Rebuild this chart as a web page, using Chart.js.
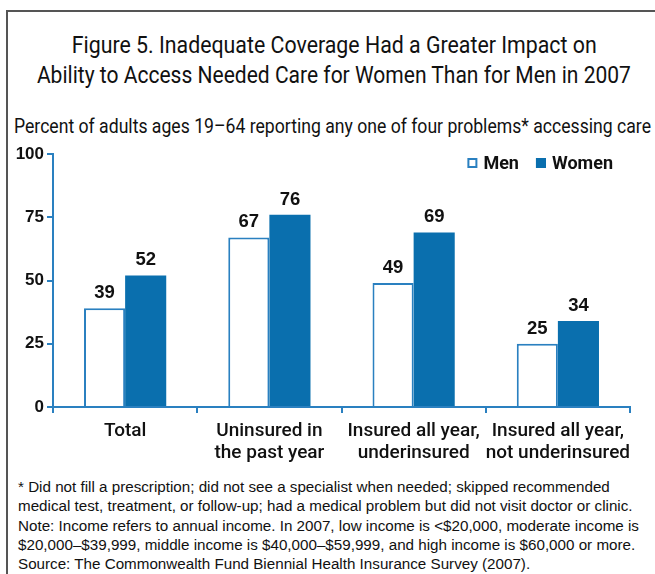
<!DOCTYPE html>
<html>
<head>
<meta charset="utf-8">
<script src="https://cdn.jsdelivr.net/npm/chart.js@4.4.1/dist/chart.umd.min.js"></script>
<style>
  html, body { margin: 0; padding: 0; background: #fff; }
  #page { position: relative; width: 655px; height: 574px; overflow: hidden; }
  #frame { position: absolute; left: 6px; top: 10px; width: 700px; height: 600px;
           border-left: 2px solid #555; border-top: 2px solid #555; }
  .head { position: absolute; left: 0; width: 668px; text-align: center; font-family: Roboto, sans-serif;
          font-size: 23.5px; color: #111; line-height: 30px; white-space: nowrap; }
  .head span, .sub span { display: inline-block; }
  .head span { transform-origin: 50% 50%; }
  .sub { position: absolute; left: 14px; top: 114px; font-family: Roboto, sans-serif; font-size: 20px;
         color: #111; line-height: 24px; white-space: nowrap; }
  .sub span { transform-origin: 0 50%; }
  #notes { position: absolute; left: 18px; top: 477px; font-family: "Liberation Sans", Arial, sans-serif;
           font-size: 15.2px; line-height: 19.3px; color: #111; white-space: nowrap; }
  #wrap { position: absolute; left: 0; top: 140px; width: 655px; height: 330px; }
</style>
</head>
<body>
<div id="page">
  <div id="frame"></div>
  <div class="head" style="top:30px"><span data-w="525">Figure 5. Inadequate Coverage Had a Greater Impact on</span></div>
  <div class="head" style="top:60px"><span data-w="594">Ability to Access Needed Care for Women Than for Men in 2007</span></div>
  <div class="sub"><span data-w="637">Percent of adults ages 19–64 reporting any one of four problems* accessing care</span></div>
  <div id="wrap"><canvas id="chart" width="655" height="330"></canvas></div>
  <div id="notes">
    <div>* Did not fill a prescription; did not see a specialist when needed; skipped recommended</div>
    <div>medical test, treatment, or follow-up; had a medical problem but did not visit doctor or clinic.</div>
    <div>Note: Income refers to annual income. In 2007, low income is &lt;$20,000, moderate income is</div>
    <div>$20,000–$39,999, middle income is $40,000–$59,999, and high income is $60,000 or more.</div>
    <div>Source: The Commonwealth Fund Biennial Health Insurance Survey (2007).</div>
  </div>
</div>
<script>
const categories = [
  ['Total'],
  ['Uninsured in', 'the past year'],
  ['Insured all year,', 'underinsured'],
  ['Insured all year,', 'not underinsured']
];
const menValues = [39, 67, 49, 25];
const womenValues = [52, 76, 69, 34];
const yTicks = [0, 25, 50, 75, 100];

const BLUE = '#0a6fae';
const AXIS = '#2a80c0';
const ARIAL = '"Liberation Sans", Arial, sans-serif';

// squeeze the heading lines to their column width
document.querySelectorAll('[data-w]').forEach(el => {
  const w = el.getBoundingClientRect().width;
  el.style.transform = 'scaleX(' + (el.dataset.w / w) + ')';
});

// numbers over each bar
const valueLabels = {
  id: 'valueLabels',
  afterDatasetsDraw(chart) {
    const ctx = chart.ctx;
    ctx.save();
    ctx.font = 'bold 18.5px ' + ARIAL;
    ctx.fillStyle = '#111';
    ctx.textAlign = 'center';
    ctx.textBaseline = 'bottom';
    chart.data.datasets.forEach((ds, i) => {
      chart.getDatasetMeta(i).data.forEach((bar, j) => {
        ctx.fillText(ds.data[j], bar.x, bar.y - 6);
      });
    });
    ctx.restore();
  }
};

// small legend in the top right corner of the plot
const cornerLegend = {
  id: 'cornerLegend',
  afterDraw(chart) {
    const ctx = chart.ctx;
    const area = chart.chartArea;
    const box = 10, gap = 6, spacing = 17;
    ctx.save();
    ctx.font = 'bold 18px Roboto, sans-serif';
    ctx.textBaseline = 'middle';
    const items = chart.data.datasets.map(ds => ({ ds, w: ctx.measureText(ds.label).width }));
    const total = items.reduce((s, it) => s + box + gap + it.w, 0) + spacing * (items.length - 1);
    let x = area.right - 17 - total;
    const y = area.top + 9;
    items.forEach(it => {
      ctx.fillStyle = it.ds.backgroundColor;
      ctx.fillRect(x, y - box / 2, box, box);
      ctx.strokeStyle = it.ds.borderColor;
      ctx.lineWidth = 2;
      ctx.strokeRect(x + 1, y - box / 2 + 1, box - 2, box - 2);
      x += box + gap;
      ctx.fillStyle = '#111';
      ctx.fillText(it.ds.label, x, y + 1);
      x += it.w + spacing;
    });
    ctx.restore();
  }
};

new Chart(document.getElementById('chart'), {
  type: 'bar',
  data: {
    labels: categories,
    datasets: [
      { label: 'Men', data: menValues, backgroundColor: '#ffffff', borderColor: AXIS, borderWidth: 2 },
      { label: 'Women', data: womenValues, backgroundColor: BLUE, borderColor: BLUE, borderWidth: 0 }
    ]
  },
  options: {
    responsive: false,
    animation: false,
    layout: { padding: { top: 14, right: 25, left: 0, bottom: 0 } },
    datasets: { bar: { categoryPercentage: 0.57, barPercentage: 1.0 } },
    plugins: { legend: { display: false }, tooltip: { enabled: false } },
    scales: {
      x: {
        grid: { drawOnChartArea: false, offset: true, color: AXIS, lineWidth: 2, tickLength: 6 },
        border: { color: AXIS, width: 2 },
        ticks: { color: '#111', padding: 7, font: { family: 'Roboto, sans-serif', size: 19, weight: '500', lineHeight: 1.15 },
                 maxRotation: 0, autoSkip: false },
        afterFit(scale) { scale.height = 63; }
      },
      y: {
        min: 0,
        max: 100,
        afterBuildTicks(scale) { scale.ticks = yTicks.map(v => ({ value: v })); },
        grid: { drawOnChartArea: false, color: AXIS, lineWidth: 2, tickLength: 6 },
        border: { color: AXIS, width: 2 },
        ticks: { color: '#111', padding: 3, font: { family: ARIAL, size: 17, weight: 'bold' } },
        afterFit(scale) { scale.width = 53; }
      }
    }
  },
  plugins: [valueLabels, cornerLegend]
});
</script>
</body>
</html>
